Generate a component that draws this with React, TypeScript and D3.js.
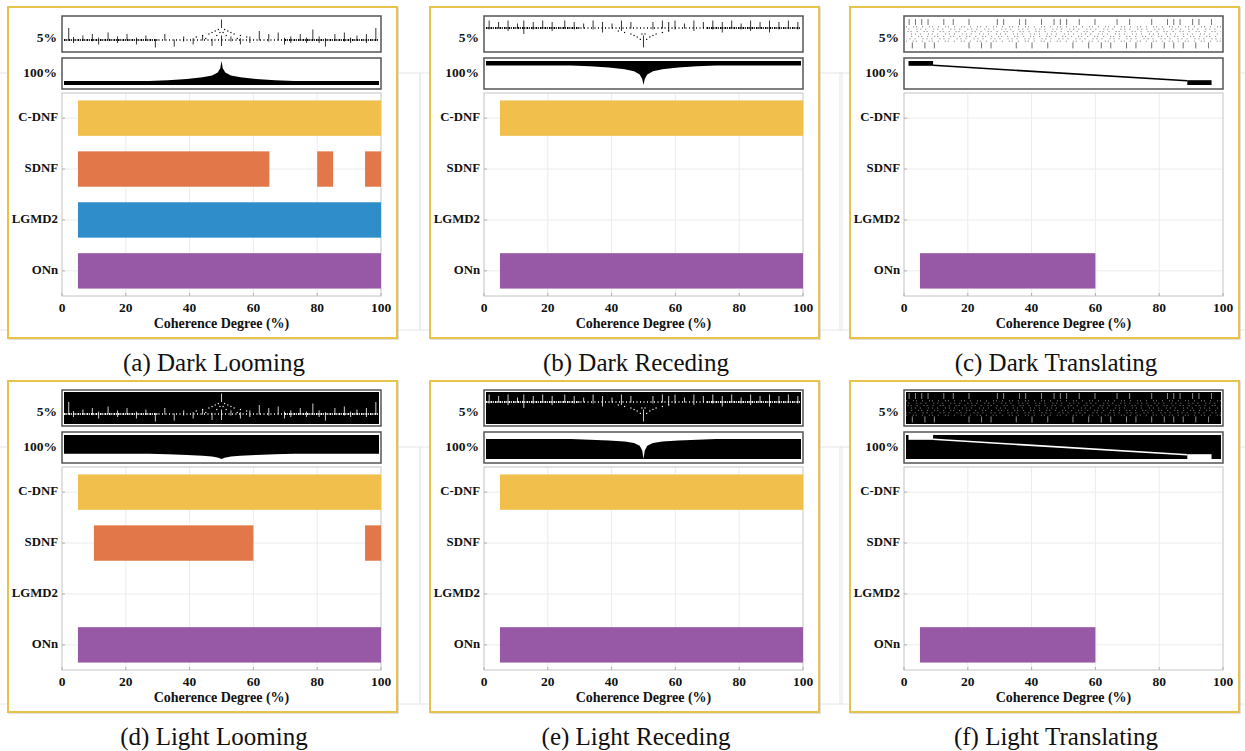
import React from 'react';
import * as d3 from 'd3';

const categories = ['C-DNF', 'SDNF', 'LGMD2', 'ONn'];
const xTicks = [0, 20, 40, 60, 80, 100];
const barColors: Record<string, string> = {
  'C-DNF': '#F0BF4C',
  SDNF: '#E2784A',
  LGMD2: '#2F8DC9',
  ONn: '#9759A5',
};

const captions = [
  '(a) Dark Looming',
  '(b) Dark Receding',
  '(c) Dark Translating',
  '(d) Light Looming',
  '(e) Light Receding',
  '(f) Light Translating',
];

// detected coherence intervals: [category, from %, to %]
const darkLoomingBars = [['C-DNF', 5, 100], ['SDNF', 5, 65], ['SDNF', 80, 85], ['SDNF', 95, 100], ['LGMD2', 5, 100], ['ONn', 5, 100]];
const darkRecedingBars = [['C-DNF', 5, 100], ['ONn', 5, 100]];
const darkTranslatingBars = [['ONn', 5, 60]];
const lightLoomingBars = [['C-DNF', 5, 100], ['SDNF', 10, 60], ['SDNF', 95, 100], ['ONn', 5, 100]];
const lightRecedingBars = [['C-DNF', 5, 100], ['ONn', 5, 100]];
const lightTranslatingBars = [['ONn', 5, 60]];

// 5% coherence stimulus strips: spikes [x %, top, bottom] (fraction of strip height)
const loomSpikes = [
  [1.5, 0.3, 0.72], [3, 0.6, 0.8], [6, 0.55, 0.72], [9, 0.5, 0.74], [11, 0.62, 0.85], [14, 0.45, 0.72],
  [17, 0.58, 0.8], [20, 0.5, 0.72], [23, 0.62, 0.85], [26, 0.55, 0.72], [29, 0.68, 0.95], [32, 0.5, 0.72],
  [35, 0.68, 0.92], [38, 0.58, 0.75], [41, 0.64, 0.85], [44, 0.55, 0.72], [47, 0.66, 0.9], [50, 0.02, 0.3],
  [50, 0.55, 0.9], [53, 0.58, 0.75], [56, 0.64, 0.85], [59, 0.58, 0.8], [62, 0.4, 0.72], [65, 0.5, 0.75],
  [68, 0.45, 0.72], [70, 0.62, 0.85], [72, 0.58, 0.8], [75, 0.5, 0.72], [77, 0.62, 0.8], [79, 0.35, 0.72],
  [81, 0.58, 0.8], [83, 0.64, 0.92], [86, 0.5, 0.72], [89, 0.45, 0.75], [91, 0.62, 0.8], [93, 0.55, 0.72],
  [96, 0.5, 0.8], [99, 0.3, 0.72],
];
const loomFan = [
  [42, 0.6], [44, 0.55], [45, 0.65], [46, 0.5], [47, 0.45], [48, 0.4], [48.5, 0.55], [49, 0.35], [49.5, 0.45],
  [50.5, 0.45], [51, 0.35], [51.5, 0.55], [52, 0.4], [53, 0.45], [54, 0.5], [55, 0.65], [56, 0.55], [58, 0.6],
];
const recedeSpikes = [
  [1, 0.05, 0.35], [4, 0.1, 0.32], [7, 0.05, 0.4], [10, 0.15, 0.32], [12, 0.05, 0.5], [15, 0.1, 0.35],
  [18, 0.05, 0.32], [21, 0.1, 0.4], [25, 0.05, 0.32], [28, 0.1, 0.35], [31, 0.15, 0.32], [34, 0.05, 0.35],
  [37, 0.1, 0.45], [40, 0.15, 0.32], [43, 0.05, 0.4], [46, 0.1, 0.32], [50, 0.55, 0.95], [53, 0.1, 0.35],
  [56, 0.05, 0.32], [58, 0.1, 0.4], [60, 0.05, 0.35], [63, 0.15, 0.32], [66, 0.05, 0.4], [69, 0.1, 0.32],
  [72, 0.05, 0.35], [75, 0.1, 0.45], [78, 0.05, 0.32], [81, 0.15, 0.35], [84, 0.05, 0.4], [87, 0.1, 0.32],
  [90, 0.05, 0.45], [93, 0.1, 0.35], [96, 0.05, 0.32], [99, 0.1, 0.35],
];
const recedeFan = [
  [42, 0.4], [44, 0.45], [46, 0.5], [47, 0.55], [48, 0.6], [49, 0.68], [49.5, 0.5],
  [50.5, 0.5], [51, 0.68], [52, 0.6], [53, 0.55], [54, 0.5], [56, 0.45], [58, 0.4],
];
const transTopTicks = [1, 3, 5, 7, 12, 15, 20, 29, 31, 36, 38, 43, 47, 49, 51, 55, 60, 67, 71, 78, 83, 85, 87, 91, 93, 97];
const transBottomTicks = [2, 6, 9, 20, 24, 27, 35, 40, 45, 53, 58, 62, 65, 70, 73, 78, 82, 85, 88, 92, 96];
const transDotRows = [0.26, 0.34, 0.42, 0.5, 0.58, 0.66, 0.74];

// 100% coherence strips: profile [x %, thickness fraction]
const loomProfile = [
  [0, 0.17], [27, 0.17], [33, 0.2], [39, 0.25], [44, 0.32], [47, 0.4], [48.8, 0.52], [49.6, 0.7], [50, 1],
  [50.4, 0.7], [51.2, 0.52], [53, 0.4], [56, 0.32], [61, 0.25], [67, 0.2], [73, 0.17], [100, 0.17],
];
const recedeProfile = [
  [0, 0.19], [27, 0.19], [33, 0.22], [39, 0.27], [44, 0.34], [47, 0.43], [48.8, 0.56], [49.6, 0.75], [50, 1],
  [50.4, 0.75], [51.2, 0.56], [53, 0.43], [56, 0.34], [61, 0.27], [67, 0.22], [73, 0.19], [100, 0.19],
];
const lightLoomProfile = [
  [0, 0.22], [27, 0.22], [33, 0.2], [39, 0.17], [44, 0.14], [47, 0.1], [49, 0.05], [50, 0],
  [51, 0.05], [53, 0.1], [56, 0.14], [61, 0.17], [67, 0.2], [73, 0.22], [100, 0.22],
];
const lightRecedeProfile = [
  [0, 0.17], [27, 0.17], [33, 0.2], [39, 0.23], [44, 0.27], [47, 0.33], [48.8, 0.45], [49.6, 0.65], [50, 1],
  [50.4, 0.65], [51.2, 0.45], [53, 0.33], [56, 0.27], [61, 0.23], [67, 0.2], [73, 0.17], [100, 0.17],
];
const transBlocks = [[0.8, 8.6, 0, 0.2], [89.3, 97, 0.8, 1]];
const transLine = [[8.6, 0.18], [89.3, 0.82]];

const panels = [
  { bars: darkLoomingBars, motion: 'loom', light: false, profile: loomProfile },
  { bars: darkRecedingBars, motion: 'recede', light: false, profile: recedeProfile },
  { bars: darkTranslatingBars, motion: 'trans', light: false, profile: null },
  { bars: lightLoomingBars, motion: 'loom', light: true, profile: lightLoomProfile },
  { bars: lightRecedingBars, motion: 'recede', light: true, profile: lightRecedeProfile },
  { bars: lightTranslatingBars, motion: 'trans', light: true, profile: null },
];

const colX = [8, 430, 850];
const rowY = [6, 380];
const FONT = '"Liberation Serif", "Times New Roman", serif';

function Strip5({ x0, y0, motion, light }: any) {
  const top = y0 + 10;
  const h = 36;
  const sx = d3.scaleLinear().domain([0, 100]).range([x0 + 56, x0 + 371]);
  const sy = d3.scaleLinear().domain([0, 1]).range([top + 3, top + h - 3]);
  const ink = light ? '#fff' : '#000';
  const baseY = motion === 'loom' ? 0.7 : 0.3;
  const spikes = motion === 'loom' ? loomSpikes : recedeSpikes;
  const fan = motion === 'loom' ? loomFan : recedeFan;
  return (
    <g>
      <rect x={x0 + 54} y={top} width={319} height={h} fill="#fff" stroke="#555" strokeWidth={1.5} />
      {light && <rect x={sx(0)} y={sy(0) - 1} width={sx(100) - sx(0)} height={sy(1) - sy(0) + 2} fill="#000" />}
      {motion !== 'trans' && (
        <g stroke={ink}>
          <line x1={sx(0)} x2={sx(30)} y1={sy(baseY)} y2={sy(baseY)} strokeWidth={1.8} strokeDasharray="1.5 0.8 1 1.2" />
          <line x1={sx(70)} x2={sx(100)} y1={sy(baseY)} y2={sy(baseY)} strokeWidth={1.8} strokeDasharray="1.5 0.8 1 1.2" />
          <line x1={sx(30)} x2={sx(70)} y1={sy(baseY)} y2={sy(baseY)} strokeWidth={1.4} strokeDasharray="1 2.5" />
          {spikes.map((s, i) => (
            <line key={i} x1={sx(s[0])} x2={sx(s[0])} y1={sy(s[1])} y2={sy(s[2])} strokeWidth={0.8} />
          ))}
          {fan.map((p, i) => (
            <rect key={'f' + i} x={sx(p[0]) - 0.6} y={sy(p[1]) - 0.6} width={1.2} height={1.2} fill={ink} stroke="none" />
          ))}
        </g>
      )}
      {motion === 'trans' && (
        <g stroke={ink}>
          {transDotRows.map((r, i) => (
            <line key={'r' + i} x1={sx(0)} x2={sx(100)} y1={sy(r)} y2={sy(r)} strokeWidth={0.9}
              strokeDasharray={i % 2 ? '1 4 1 7 1 3' : '1 6 1 2 1 5'} strokeDashoffset={i * 2.7} opacity={0.6} />
          ))}
          {transTopTicks.map((t, i) => (
            <line key={'t' + i} x1={sx(t)} x2={sx(t)} y1={sy(0)} y2={sy(0.2)} strokeWidth={0.8} opacity={0.7} />
          ))}
          {transBottomTicks.map((t, i) => (
            <line key={'b' + i} x1={sx(t)} x2={sx(t)} y1={sy(0.78)} y2={sy(0.98)} strokeWidth={0.8} opacity={0.7} />
          ))}
        </g>
      )}
    </g>
  );
}

function Strip100({ x0, y0, motion, light, profile }: any) {
  const top = y0 + 52;
  const h = 31;
  const sx = d3.scaleLinear().domain([0, 100]).range([x0 + 56, x0 + 371]);
  const sy = d3.scaleLinear().domain([0, 1]).range([top + 3, top + h - 4]);
  const ink = light ? '#fff' : '#000';
  let shape = null;
  if (motion !== 'trans') {
    // looming profiles grow from the bottom edge, receding ones hang from the top
    const fromBottom = motion === 'loom';
    const area = d3
      .area<number[]>()
      .x((d) => sx(d[0]))
      .y0(fromBottom ? sy(1) : sy(0))
      .y1((d) => (fromBottom ? sy(1 - d[1]) : sy(d[1])));
    shape = <path d={area(profile) || ''} fill={ink} />;
  } else {
    shape = (
      <g fill={ink}>
        {transBlocks.map((b, i) => (
          <rect key={i} x={sx(b[0])} y={sy(b[2])} width={sx(b[1]) - sx(b[0])} height={sy(b[3]) - sy(b[2])} />
        ))}
        <line x1={sx(transLine[0][0])} y1={sy(transLine[0][1])} x2={sx(transLine[1][0])} y2={sy(transLine[1][1])}
          stroke={ink} strokeWidth={1.6} />
      </g>
    );
  }
  return (
    <g>
      <rect x={x0 + 54} y={top} width={319} height={h} fill="#fff" stroke="#555" strokeWidth={1.5} />
      {light && <rect x={sx(0)} y={sy(0)} width={sx(100) - sx(0)} height={sy(1) - sy(0)} fill="#000" />}
      {shape}
    </g>
  );
}

function Panel({ x0, y0, caption, bars, motion, light, profile }: any) {
  const x = d3.scaleLinear().domain([0, 100]).range([x0 + 54, x0 + 373]);
  const y = d3
    .scaleBand()
    .domain(categories)
    .range([y0 + 87, y0 + 290])
    .paddingInner(0.305)
    .paddingOuter(0.146);
  const plotTop = y0 + 87;
  const plotBottom = y0 + 290;
  const mid = (c: string) => y(c)! + y.bandwidth() / 2;
  return (
    <g>
      {/* faint frame behind each panel */}
      <rect x={x0 - 10} y={y0 + 67} width={422} height={257} fill="none" stroke="#e6e6e6" strokeWidth={1} />
      <rect x={x0 + 1} y={y0 + 2} width={389} height={331} fill="none" stroke="#d6d6d6" strokeWidth={1.5} />
      <rect x={x0} y={y0 + 1} width={389} height={331} fill="#fff" stroke="#E8C34A" strokeWidth={2} />
      <text x={x0 + 49} y={y0 + 33} textAnchor="end" dominantBaseline="middle" fontSize={13.5} fontWeight="bold">5%</text>
      <text x={x0 + 49} y={y0 + 68} textAnchor="end" dominantBaseline="middle" fontSize={13.5} fontWeight="bold">100%</text>
      <Strip5 x0={x0} y0={y0} motion={motion} light={light} />
      <Strip100 x0={x0} y0={y0} motion={motion} light={light} profile={profile} />

      {/* grid */}
      {xTicks.slice(1, -1).map((t) => (
        <line key={t} x1={x(t)} x2={x(t)} y1={plotTop} y2={plotBottom} stroke="#ececec" />
      ))}
      {categories.map((c) => (
        <line key={c} x1={x(0)} x2={x(100)} y1={mid(c)} y2={mid(c)} stroke="#ececec" />
      ))}
      <rect x={x(0)} y={plotTop} width={x(100) - x(0)} height={plotBottom - plotTop} fill="none" stroke="#c4c4c4" />

      {bars.map((b: any, i: number) => (
        <rect key={i} x={x(b[1])} y={y(b[0])} width={x(b[2]) - x(b[1])} height={y.bandwidth()} fill={barColors[b[0]]} />
      ))}

      {/* ticks */}
      {xTicks.map((t) => (
        <g key={t}>
          <line x1={x(t)} x2={x(t)} y1={plotBottom} y2={plotBottom - 3} stroke="#b0b0b0" />
          <text x={x(t)} y={plotBottom + 16} textAnchor="middle" fontSize={13.5} fontWeight="bold">{t}</text>
        </g>
      ))}
      {categories.map((c) => (
        <g key={c}>
          <line x1={x(0)} x2={x(0) + 3} y1={mid(c)} y2={mid(c)} stroke="#b0b0b0" />
          <text x={x0 + 50} y={mid(c)} textAnchor="end" dominantBaseline="middle" fontSize={12.8} fontWeight="bold">
            {c}
          </text>
        </g>
      ))}
      <text x={(x(0) + x(100)) / 2} y={plotBottom + 32} textAnchor="middle" fontSize={14} fontWeight="bold">
        Coherence Degree (%)
      </text>
      <text x={x0 + 206} y={y0 + 365} textAnchor="middle" fontSize={25}>{caption}</text>
    </g>
  );
}

export default function App() {
  return (
    <svg width={1245} height={751} style={{ position: 'absolute', left: 0, top: 0, background: '#fff' }}
      fontFamily={FONT} fill="#111">
      <rect width={1245} height={751} fill="#fff" />
      {panels.map((p, i) => (
        <Panel key={i} x0={colX[i % 3]} y0={rowY[Math.floor(i / 3)]} caption={captions[i]} {...p} />
      ))}
    </svg>
  );
}
